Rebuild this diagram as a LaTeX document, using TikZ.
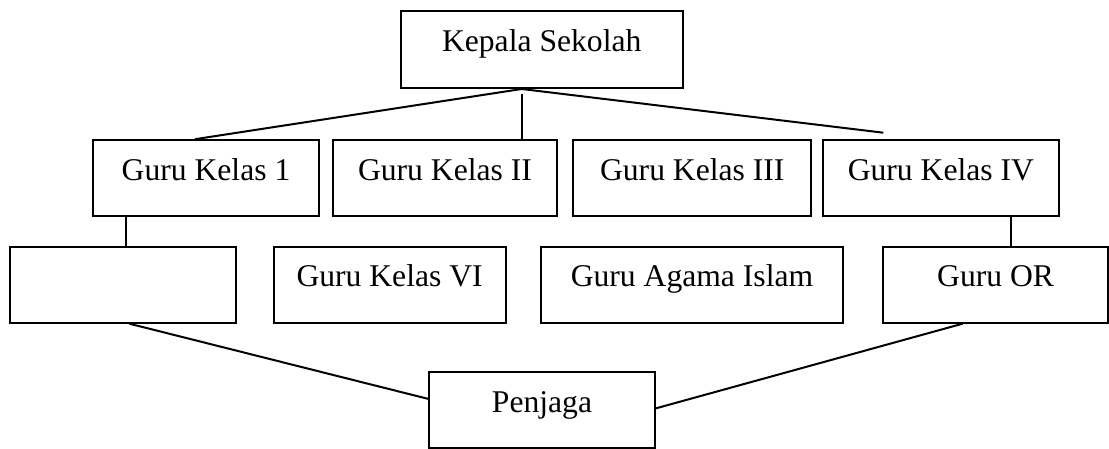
\documentclass[tikz,border=0pt]{standalone}
\usepackage{fontspec}
\setmainfont{Liberation Serif}
\usepackage{tikz}
\usetikzlibrary{arrows.meta, positioning, calc}

\begin{document}
\begin{tikzpicture}[
    x=0.02cm, y=-0.02cm,
    box/.style={draw, line width=0.04cm, inner sep=0pt, minimum height=1.52cm, align=center,
        text height=0.5cm, text depth=0.42cm, font=\fontsize{18}{22}\selectfont},
    line width=0.04cm, >=Stealth
]
\useasboundingbox (0,0) rectangle (1109,449);
% top
\node[box, minimum width=5.64cm, minimum height=1.54cm] (kepala) at (541.7,49.5) {Kepala Sekolah};
% row two
\node[box, minimum width=4.51cm] (g1) at (206,178.2) {Guru Kelas 1};
\node[box, minimum width=4.47cm] (g2) at (445,178.2) {Guru Kelas II};
\node[box, minimum width=4.76cm] (g3) at (692.3,178.2) {Guru Kelas III};
\node[box, minimum width=4.71cm] (g4) at (940.9,178.2) {Guru Kelas IV};
% row three
\node[box, minimum width=4.51cm] (kosong) at (122.9,284.7) {};
\node[box, minimum width=4.64cm] (g6) at (389.6,284.7) {Guru Kelas VI};
\node[box, minimum width=6.05cm] (agama) at (692,284.7) {Guru Agama Islam};
\node[box, minimum width=4.49cm] (orr) at (995.6,284.7) {Guru OR};
% bottom
\node[box, minimum width=4.51cm] (penjaga) at (542,410.4) {Penjaga};

\coordinate (puncak) at ([xshift=-0.4cm]kepala.south);
\coordinate (ujung) at (883.3,132.7);

\draw (puncak) -- ([xshift=-0.22cm]g1.north);
\draw (puncak) -- (ujung);
\draw ([yshift=-0.1cm]puncak) -- (puncak |- g2.north);
\draw ([xshift=0.07cm]kosong.north) -- ([xshift=0.07cm]kosong.north |- g1.south);
\draw ([xshift=0.3cm]orr.north) -- ([xshift=0.3cm]orr.north |- g4.south);
\draw ([xshift=0.13cm]kosong.south) -- ([yshift=0.23cm]penjaga.west);
\draw ([yshift=0.04cm]penjaga.east) -- ([xshift=-0.66cm]orr.south);
\end{tikzpicture}
\end{document}
